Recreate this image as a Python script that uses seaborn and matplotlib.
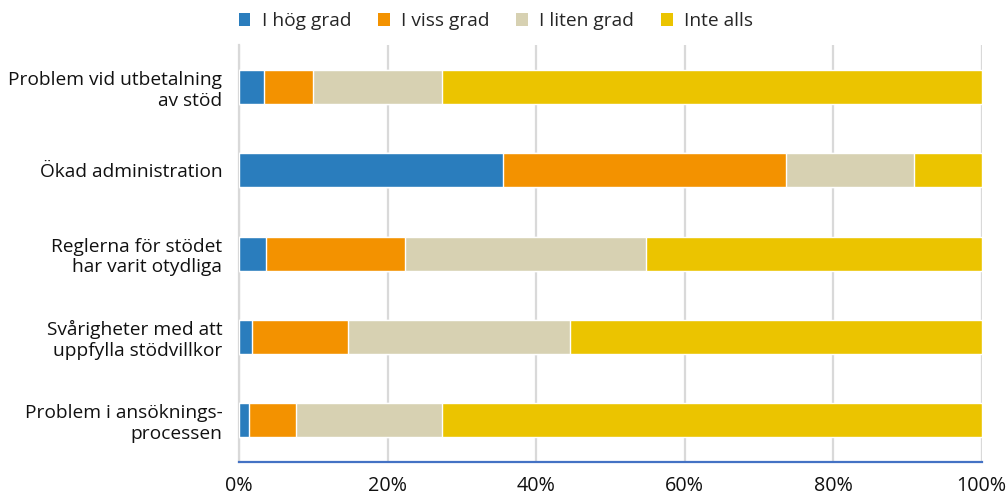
import numpy as np
import pandas as pd
import matplotlib
matplotlib.use("Agg")
import matplotlib.pyplot as plt
import seaborn as sns
from matplotlib.patches import Patch
from matplotlib.ticker import PercentFormatter

categories = [
    "Problem vid utbetalning\nav stöd",
    "Ökad administration",
    "Reglerna för stödet\nhar varit otydliga",
    "Svårigheter med att\nuppfylla stödvillkor",
    "Problem i ansöknings-\nprocessen",
]
series_names = ["I hög grad", "I viss grad", "I liten grad", "Inte alls"]
hog_grad = [3.4, 35.6, 3.7, 1.8, 1.4]
viss_grad = [6.6, 38.1, 18.6, 12.9, 6.3]
liten_grad = [17.3, 17.2, 32.5, 29.9, 19.6]
inte_alls = [72.7, 9.1, 45.2, 55.4, 72.7]
colors = ["#2a7dbd", "#f39200", "#d7d1b2", "#ebc400"]
x_ticks = [0, 20, 40, 60, 80, 100]

sns.set_theme(style="white")
plt.rcParams["font.family"] = ["Open Sans", "DejaVu Sans"]

df = pd.DataFrame({"kategori": categories, series_names[0]: hog_grad,
                   series_names[1]: viss_grad, series_names[2]: liten_grad,
                   series_names[3]: inte_alls})
cum = df[series_names].cumsum(axis=1)

fig = plt.figure(figsize=(10.06, 4.96), dpi=100)
ax = fig.add_axes([0.2376, 0.069, 0.7381, 0.8395])

# stacked bars: draw cumulative totals from the widest down
for name, col in reversed(list(zip(series_names, colors))):
    sns.barplot(x=cum[name], y=df["kategori"], color=col, orient="h",
                width=0.41, saturation=1, ax=ax, zorder=3)

ax.set_xlim(0, 100)
ax.set_ylim(4.5, -0.5)
ax.set_xticks(x_ticks)
ax.xaxis.set_major_formatter(PercentFormatter(decimals=0))
ax.set_xlabel("")
ax.set_ylabel("")
ax.grid(axis="x", color="#d9d9d9", linewidth=1.6, zorder=0)
ax.set_axisbelow(True)

for s in ["top", "right"]:
    ax.spines[s].set_visible(False)
ax.spines["left"].set_color("#d9d9d9")
ax.spines["left"].set_linewidth(1.6)
ax.spines["bottom"].set_color("#4472c4")
ax.spines["bottom"].set_linewidth(1.6)

ax.tick_params(axis="x", direction="in", length=5, width=1.4, color="#4472c4",
               labelsize=14.2, labelcolor="#111111", pad=10)
ax.tick_params(axis="y", length=0, labelsize=13.8, labelcolor="#111111", pad=12)
ax.set_yticks(np.arange(0.5, 4.0, 1.0), minor=True)
ax.tick_params(axis="y", which="minor", length=5, width=1.6, color="#d9d9d9")
for lab in ax.get_yticklabels():
    lab.set_multialignment("right")

handles = [Patch(facecolor=c, edgecolor="none") for c in colors]
fig.legend(handles, series_names, loc="upper center", bbox_to_anchor=(0.493, 1.01),
           ncol=4, frameon=False, fontsize=13.8, handlelength=0.6, handleheight=0.6,
           handletextpad=0.6, columnspacing=1.4)

fig.savefig("out.png", dpi=100)
